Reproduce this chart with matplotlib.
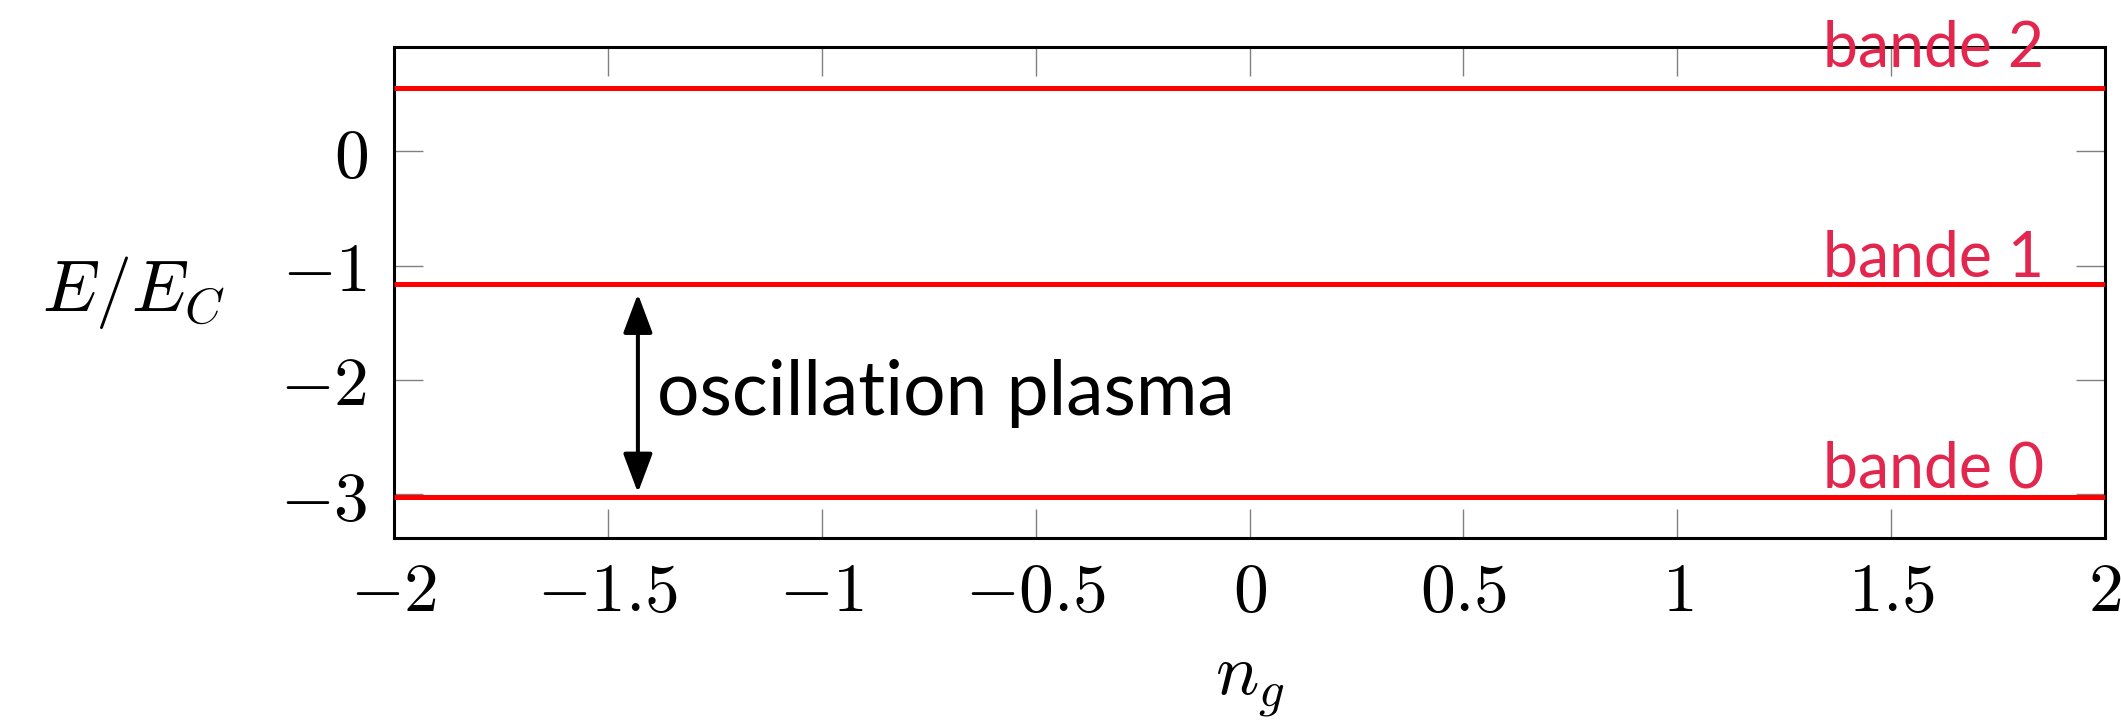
import numpy as np
import matplotlib.pyplot as plt

plt.rcParams["mathtext.fontset"] = "cm"
plt.rcParams["font.family"] = ["Lato", "DejaVu Sans"]

# data
ng_range = [-2, 2]
band_energies = [-3.025, -1.163, 0.553]
band_labels = ["bande 0", "bande 1", "bande 2"]
xticks = [-2, -1.5, -1, -0.5, 0, 0.5, 1, 1.5, 2]
yticks = [-3, -2, -1, 0]
arrow_x = -1.43
arrow_text = "oscillation plasma"

label_offsets = [7, 5.5, 15.5]  # points above each band

fig = plt.figure(figsize=(21.21, 7.24), dpi=100)
ax = fig.add_axes([0.1858, 0.2569, 0.8067, 0.6782])

for E in band_energies:
    ax.plot(ng_range, [E, E], color="#ff0000", lw=3.6, solid_capstyle="butt", zorder=3)

for E, lab, off in zip(band_energies, band_labels, label_offsets):
    ax.annotate(lab, xy=(1.341, E), xytext=(0, off), textcoords="offset points",
                ha="left", va="baseline", fontsize=45, color="#e2264d",
                annotation_clip=False, zorder=5)

# plasma oscillation arrow between band 0 and band 1
ax.annotate("", xy=(arrow_x, band_energies[1]), xytext=(arrow_x, band_energies[0]),
            arrowprops=dict(arrowstyle="<|-|>,head_length=0.8,head_width=0.3",
                            mutation_scale=30, color="black", lw=2.9,
                            shrinkA=3, shrinkB=7))
ax.text(arrow_x + 0.045, (band_energies[0] + band_energies[1]) / 2 - 0.03, arrow_text,
        ha="left", va="center", fontsize=54, color="black")

ax.set_xlim(-2, 2)
ax.set_ylim(-3.385, 0.913)
ax.set_xticks(xticks)
ax.set_xticklabels([f"${v:g}$" for v in xticks])
ax.set_yticks(yticks)
ax.set_yticklabels([f"${v:g}$" for v in yticks])

ax.tick_params(direction="in", length=21, width=1.0, color="#808080",
               top=True, right=True, labelsize=50)
ax.tick_params(axis="x", pad=16)
ax.tick_params(axis="y", pad=19)
for s in ax.spines.values():
    s.set_linewidth(2.2)

ax.set_xlabel("$n_g$", fontsize=52, va="center")
ax.xaxis.set_label_coords(0.5, -0.302)
ax.set_ylabel("$E/E_C$", fontsize=52, rotation=0, ha="center", va="center")
ax.yaxis.set_label_coords(-0.152, 0.5)

fig.savefig("out.png", dpi=100)
